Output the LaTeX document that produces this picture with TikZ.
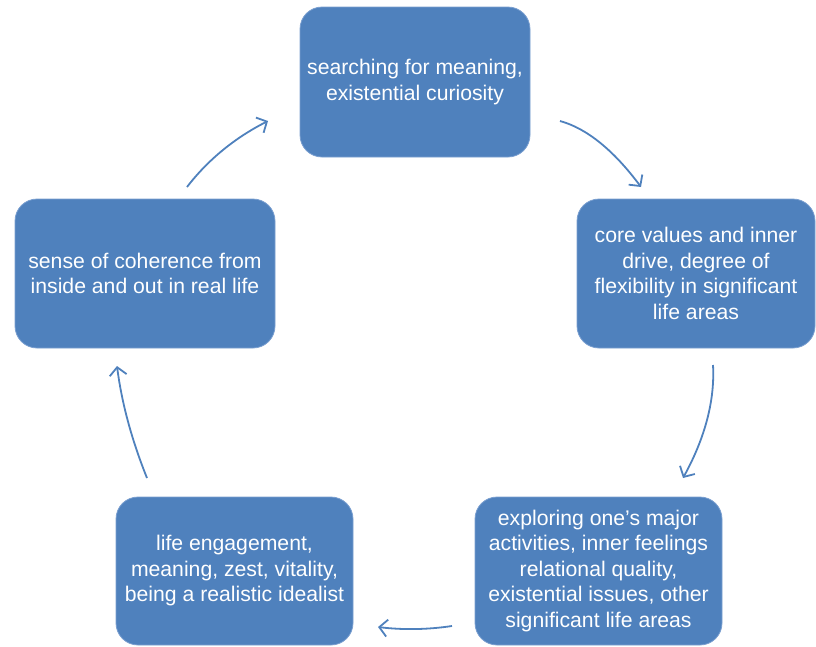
\documentclass[tikz,border=0pt]{standalone}
\usepackage{fontspec}
\setmainfont{Liberation Sans}
\usetikzlibrary{arrows.meta}
\definecolor{boxblue}{HTML}{4F81BD}
\definecolor{edgeblue}{HTML}{7A9FD0}
\begin{document}
\begin{tikzpicture}[x=1pt,y=-1pt,
  cbox/.style={fill=boxblue, draw=edgeblue, line width=0.8pt, rounded corners=22pt,
    align=center, text=white, inner sep=0pt,
    font=\fontsize{21.2}{25.5}\selectfont},
  cyc/.style={draw=boxblue, line width=1.8pt,
    -{Straight Barb[length=8pt,width=17pt,line width=1.8pt]}}]
\useasboundingbox (0,0) rectangle (816,646);
\node[cbox, minimum width=230pt, minimum height=150pt] (top) at (415,82)
  {searching for meaning,\\existential curiosity};
\node[cbox, minimum width=238pt, minimum height=149pt] (right) at (696,273.5)
  {core values and inner\\drive, degree of\\flexibility in significant\\life areas};
\node[cbox, minimum width=247pt, minimum height=148pt] (br) at (598.5,571)
  {exploring one\char"0027 s major\\activities, inner feelings\\relational quality,\\existential issues, other\\significant life areas};
\node[cbox, minimum width=237pt, minimum height=148pt] (bl) at (234.5,571)
  {life engagement,\\meaning, zest, vitality,\\being a realistic idealist};
\node[cbox, minimum width=260pt, minimum height=149pt] (left) at (145,273.5)
  {sense of coherence from\\inside and out in real life};
\coordinate (a1s) at (560,121);
\coordinate (a1e) at (641,187);
\coordinate (a2s) at (713,365);
\coordinate (a2e) at (683,478);
\coordinate (a3s) at (452,626);
\coordinate (a3e) at (378,627);
\coordinate (a4s) at (147,478);
\coordinate (a4e) at (117,366);
\coordinate (a5s) at (187,187);
\coordinate (a5e) at (268,121);
\draw[cyc] (a1s) .. controls (586.7,128.3) and (613.7,150.3) .. (a1e);
\draw[cyc] (a2s) .. controls (715,400.3) and (705,438) .. (a2e);
\draw[cyc] (a3s) .. controls (427.3,629.7) and (402.7,630) .. (a3e);
\draw[cyc] (a4s) .. controls (131.7,440) and (121.7,402.7) .. (a4e);
\draw[cyc] (a5s) .. controls (208,159.7) and (235,137.7) .. (a5e);
\end{tikzpicture}
\end{document}
